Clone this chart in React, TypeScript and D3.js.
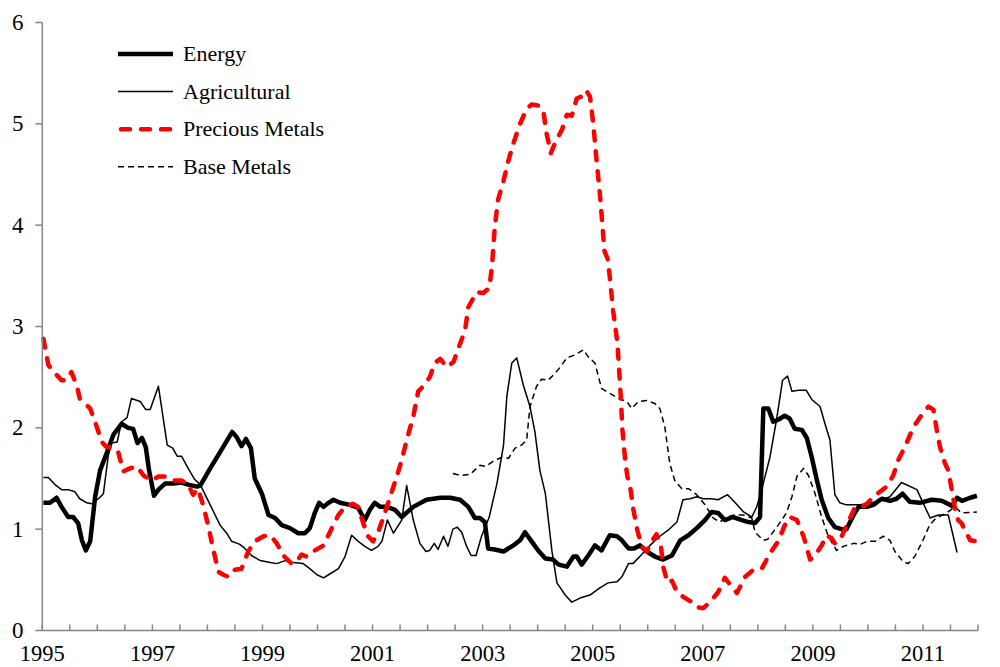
import React from "react";
import * as d3 from "d3";

// [decimal year, value]
const energy: [number, number][] = [
  [1995.02, 1.26], [1995.14, 1.26], [1995.26, 1.31], [1995.35, 1.22], [1995.47, 1.12], [1995.56, 1.12],
  [1995.65, 1.06], [1995.72, 0.89], [1995.79, 0.79], [1995.87, 0.88], [1995.96, 1.32], [1996.05, 1.58],
  [1996.17, 1.75], [1996.29, 1.93], [1996.44, 2.04], [1996.56, 2.0], [1996.65, 1.99], [1996.73, 1.85],
  [1996.81, 1.9], [1996.88, 1.81], [1996.94, 1.58], [1997.03, 1.33], [1997.11, 1.39], [1997.23, 1.45],
  [1997.38, 1.45], [1997.53, 1.46], [1997.65, 1.44], [1997.81, 1.42], [1997.87, 1.43], [1998.05, 1.6],
  [1998.23, 1.76], [1998.45, 1.96], [1998.53, 1.91], [1998.62, 1.82], [1998.7, 1.89], [1998.79, 1.8],
  [1998.86, 1.5], [1998.99, 1.35], [1999.11, 1.14], [1999.23, 1.11], [1999.35, 1.04], [1999.5, 1.01],
  [1999.65, 0.96], [1999.77, 0.96], [1999.86, 1.01], [1999.95, 1.16], [2000.03, 1.26], [2000.11, 1.22],
  [2000.2, 1.26], [2000.29, 1.29], [2000.41, 1.26], [2000.59, 1.24], [2000.74, 1.21], [2000.86, 1.09],
  [2000.95, 1.19], [2001.04, 1.26], [2001.14, 1.22], [2001.26, 1.22], [2001.41, 1.19], [2001.53, 1.12],
  [2001.74, 1.22], [2001.98, 1.29], [2002.23, 1.31], [2002.41, 1.31], [2002.59, 1.29], [2002.74, 1.22],
  [2002.86, 1.11], [2002.95, 1.11], [2003.04, 1.07], [2003.1, 0.81], [2003.22, 0.8], [2003.38, 0.78],
  [2003.56, 0.84], [2003.68, 0.89], [2003.77, 0.97], [2003.89, 0.88], [2004.01, 0.79], [2004.14, 0.71],
  [2004.28, 0.7], [2004.38, 0.65], [2004.53, 0.63], [2004.65, 0.73], [2004.71, 0.73], [2004.8, 0.65],
  [2004.92, 0.74], [2005.04, 0.84], [2005.16, 0.79], [2005.31, 0.94], [2005.44, 0.93], [2005.53, 0.89],
  [2005.65, 0.81], [2005.75, 0.81], [2005.86, 0.84], [2005.98, 0.78], [2006.13, 0.73], [2006.28, 0.7],
  [2006.44, 0.74], [2006.59, 0.89], [2006.74, 0.94], [2006.89, 1.01], [2007.04, 1.09], [2007.16, 1.17],
  [2007.28, 1.16], [2007.4, 1.09], [2007.55, 1.12], [2007.71, 1.09], [2007.83, 1.07], [2007.95, 1.06],
  [2008.04, 1.12], [2008.1, 2.19], [2008.19, 2.19], [2008.28, 2.06], [2008.37, 2.08], [2008.49, 2.12],
  [2008.58, 2.09], [2008.67, 1.99], [2008.8, 1.98], [2008.89, 1.9], [2008.98, 1.71], [2009.07, 1.49],
  [2009.16, 1.29], [2009.28, 1.11], [2009.4, 1.02], [2009.52, 1.0], [2009.61, 1.0], [2009.74, 1.14],
  [2009.83, 1.22], [2009.98, 1.22], [2010.1, 1.24], [2010.25, 1.3], [2010.4, 1.28], [2010.52, 1.3],
  [2010.63, 1.35], [2010.76, 1.27], [2010.94, 1.26], [2011.16, 1.29], [2011.34, 1.28], [2011.53, 1.23],
  [2011.62, 1.31], [2011.71, 1.28], [2011.86, 1.31], [2011.98, 1.33],
];

const agricultural: [number, number][] = [
  [1995.02, 1.51], [1995.11, 1.51], [1995.23, 1.44], [1995.35, 1.39], [1995.47, 1.39], [1995.59, 1.37],
  [1995.68, 1.3], [1995.81, 1.26], [1995.9, 1.25], [1996.02, 1.3], [1996.11, 1.35], [1996.2, 1.73],
  [1996.26, 1.85], [1996.36, 1.86], [1996.44, 2.06], [1996.54, 2.1], [1996.62, 2.29], [1996.78, 2.26],
  [1996.88, 2.18], [1996.96, 2.18], [1997.11, 2.41], [1997.27, 1.83], [1997.37, 1.8], [1997.45, 1.72],
  [1997.53, 1.72], [1997.65, 1.6], [1997.77, 1.49], [1997.87, 1.44], [1998.05, 1.24], [1998.23, 1.04],
  [1998.35, 0.96], [1998.44, 0.88], [1998.59, 0.85], [1998.68, 0.81], [1998.8, 0.74], [1998.96, 0.69],
  [1999.14, 0.67], [1999.26, 0.66], [1999.41, 0.69], [1999.56, 0.67], [1999.74, 0.66], [1999.86, 0.61],
  [1999.99, 0.55], [2000.11, 0.52], [2000.23, 0.56], [2000.38, 0.61], [2000.5, 0.73], [2000.62, 0.94],
  [2000.74, 0.88], [2000.86, 0.83], [2000.98, 0.79], [2001.1, 0.83], [2001.17, 0.88], [2001.27, 1.09],
  [2001.38, 0.96], [2001.53, 1.09], [2001.62, 1.43], [2001.74, 1.09], [2001.86, 0.86], [2001.97, 0.78],
  [2002.04, 0.79], [2002.12, 0.86], [2002.19, 0.8], [2002.29, 0.93], [2002.37, 0.83], [2002.46, 1.0],
  [2002.54, 1.02], [2002.62, 0.97], [2002.71, 0.83], [2002.79, 0.74], [2002.88, 0.74], [2002.98, 0.93],
  [2003.12, 1.12], [2003.26, 1.45], [2003.38, 1.83], [2003.44, 2.31], [2003.53, 2.64], [2003.62, 2.69],
  [2003.74, 2.42], [2003.86, 2.21], [2003.95, 1.96], [2004.04, 1.58], [2004.14, 1.35], [2004.26, 0.78],
  [2004.35, 0.47], [2004.5, 0.35], [2004.62, 0.28], [2004.77, 0.32], [2004.95, 0.35], [2005.13, 0.42],
  [2005.28, 0.47], [2005.44, 0.48], [2005.53, 0.53], [2005.65, 0.66], [2005.73, 0.66], [2005.89, 0.75],
  [2006.04, 0.84], [2006.22, 0.93], [2006.37, 0.99], [2006.53, 1.07], [2006.64, 1.29], [2006.77, 1.3],
  [2006.89, 1.32], [2007.01, 1.3], [2007.15, 1.3], [2007.28, 1.29], [2007.45, 1.34], [2007.59, 1.26],
  [2007.74, 1.17], [2007.89, 1.12], [2007.98, 1.22], [2008.07, 1.39], [2008.22, 1.71], [2008.34, 2.08],
  [2008.45, 2.47], [2008.54, 2.51], [2008.62, 2.36], [2008.74, 2.37], [2008.88, 2.37], [2008.98, 2.28],
  [2009.13, 2.21], [2009.22, 2.04], [2009.31, 1.88], [2009.4, 1.34], [2009.49, 1.26], [2009.61, 1.24],
  [2009.86, 1.24], [2010.16, 1.27], [2010.4, 1.32], [2010.61, 1.46], [2010.89, 1.39], [2011.13, 1.11],
  [2011.28, 1.14], [2011.46, 1.14], [2011.62, 0.77],
];

const precious: [number, number][] = [
  [1995.02, 2.88], [1995.11, 2.62], [1995.23, 2.54], [1995.35, 2.47], [1995.43, 2.47], [1995.53, 2.55],
  [1995.63, 2.41], [1995.68, 2.29], [1995.87, 2.19], [1995.99, 2.01], [1996.08, 1.86], [1996.17, 1.81],
  [1996.29, 1.81], [1996.38, 1.76], [1996.47, 1.57], [1996.59, 1.6], [1996.72, 1.62], [1996.84, 1.53],
  [1996.99, 1.48], [1997.11, 1.52], [1997.23, 1.52], [1997.38, 1.48], [1997.53, 1.48], [1997.65, 1.44],
  [1997.74, 1.34], [1997.83, 1.4], [1997.93, 1.22], [1998.02, 1.02], [1998.11, 0.79], [1998.2, 0.58],
  [1998.29, 0.55], [1998.38, 0.53], [1998.5, 0.6], [1998.62, 0.61], [1998.74, 0.78], [1998.86, 0.88],
  [1999.02, 0.93], [1999.14, 0.94], [1999.26, 0.86], [1999.38, 0.74], [1999.53, 0.66], [1999.62, 0.68],
  [1999.71, 0.75], [1999.8, 0.73], [1999.95, 0.79], [2000.11, 0.84], [2000.26, 1.01], [2000.38, 1.14],
  [2000.5, 1.22], [2000.64, 1.25], [2000.74, 1.22], [2000.83, 1.06], [2000.92, 0.93], [2001.01, 0.88],
  [2001.1, 0.97], [2001.2, 1.12], [2001.32, 1.32], [2001.44, 1.52], [2001.53, 1.68], [2001.62, 1.88],
  [2001.74, 2.11], [2001.83, 2.36], [2001.92, 2.41], [2002.04, 2.5], [2002.13, 2.64], [2002.23, 2.68],
  [2002.35, 2.6], [2002.47, 2.65], [2002.59, 2.83], [2002.68, 2.96], [2002.74, 3.19], [2002.89, 3.34],
  [2003.01, 3.33], [2003.12, 3.38], [2003.17, 3.59], [2003.22, 3.98], [2003.28, 4.25], [2003.38, 4.44],
  [2003.47, 4.64], [2003.56, 4.81], [2003.68, 5.0], [2003.8, 5.15], [2003.89, 5.19], [2004.01, 5.18],
  [2004.1, 5.14], [2004.16, 4.91], [2004.24, 4.71], [2004.32, 4.82], [2004.44, 4.94], [2004.53, 5.09],
  [2004.62, 5.08], [2004.71, 5.25], [2004.8, 5.27], [2004.88, 5.33], [2004.95, 5.27], [2005.01, 5.0],
  [2005.07, 4.64], [2005.13, 4.31], [2005.18, 3.98], [2005.21, 3.75], [2005.27, 3.67], [2005.31, 3.49],
  [2005.37, 3.16], [2005.45, 2.83], [2005.51, 2.31], [2005.54, 1.98], [2005.59, 1.68], [2005.63, 1.52],
  [2005.68, 1.42], [2005.74, 1.19], [2005.81, 0.99], [2005.89, 0.83], [2005.98, 0.78], [2006.07, 0.88],
  [2006.16, 0.95], [2006.24, 0.83], [2006.28, 0.63], [2006.36, 0.47], [2006.44, 0.49], [2006.53, 0.38],
  [2006.65, 0.33], [2006.8, 0.28], [2006.89, 0.23], [2007.01, 0.22], [2007.13, 0.28], [2007.28, 0.38],
  [2007.4, 0.52], [2007.53, 0.43], [2007.62, 0.37], [2007.77, 0.53], [2007.92, 0.6], [2008.07, 0.61],
  [2008.22, 0.76], [2008.37, 0.88], [2008.49, 1.04], [2008.58, 1.12], [2008.71, 1.09], [2008.83, 0.93],
  [2008.95, 0.7], [2009.04, 0.74], [2009.16, 0.84], [2009.25, 0.94], [2009.34, 0.91], [2009.4, 0.86],
  [2009.49, 0.89], [2009.64, 1.07], [2009.76, 1.21], [2009.88, 1.21], [2010.0, 1.26], [2010.1, 1.32],
  [2010.22, 1.37], [2010.34, 1.42], [2010.46, 1.53], [2010.55, 1.68], [2010.67, 1.81], [2010.83, 2.01],
  [2010.98, 2.13], [2011.1, 2.21], [2011.19, 2.18], [2011.25, 1.98], [2011.31, 1.81], [2011.4, 1.65],
  [2011.46, 1.58], [2011.52, 1.4], [2011.58, 1.21], [2011.64, 1.09], [2011.7, 1.06], [2011.78, 0.97],
  [2011.86, 0.89], [2011.98, 0.88],
];

const baseMetals: [number, number][] = [
  [2002.46, 1.55], [2002.59, 1.53], [2002.77, 1.54], [2002.95, 1.63], [2003.06, 1.62], [2003.19, 1.67],
  [2003.35, 1.71], [2003.47, 1.7], [2003.59, 1.8], [2003.71, 1.83], [2003.8, 1.88], [2003.86, 2.21],
  [2003.98, 2.41], [2004.07, 2.48], [2004.19, 2.47], [2004.32, 2.54], [2004.41, 2.6], [2004.53, 2.69],
  [2004.68, 2.72], [2004.83, 2.77], [2004.92, 2.7], [2005.04, 2.64], [2005.16, 2.39], [2005.31, 2.34],
  [2005.47, 2.29], [2005.62, 2.26], [2005.71, 2.19], [2005.83, 2.26], [2005.98, 2.27], [2006.13, 2.24],
  [2006.22, 2.19], [2006.31, 2.01], [2006.4, 1.65], [2006.49, 1.48], [2006.62, 1.4], [2006.74, 1.4],
  [2006.89, 1.34], [2007.04, 1.24], [2007.19, 1.11], [2007.31, 1.07], [2007.43, 1.12], [2007.59, 1.14],
  [2007.73, 1.14], [2007.89, 1.11], [2007.95, 0.97], [2008.1, 0.89], [2008.18, 0.9], [2008.37, 1.04],
  [2008.52, 1.16], [2008.62, 1.32], [2008.71, 1.52], [2008.83, 1.6], [2008.92, 1.53], [2009.04, 1.35],
  [2009.16, 1.12], [2009.28, 0.93], [2009.43, 0.79], [2009.55, 0.83], [2009.74, 0.86], [2009.86, 0.85],
  [2009.98, 0.88], [2010.13, 0.88], [2010.28, 0.93], [2010.4, 0.89], [2010.49, 0.78], [2010.64, 0.68],
  [2010.73, 0.66], [2010.85, 0.73], [2011.0, 0.89], [2011.12, 1.04], [2011.24, 1.11], [2011.43, 1.16],
  [2011.58, 1.22], [2011.7, 1.16], [2011.98, 1.17],
];

const yTicks = [0, 1, 2, 3, 4, 5, 6];
const xLabelYears = [1995, 1997, 1999, 2001, 2003, 2005, 2007, 2009, 2011];
const xDomain = [1995, 2012];
const yDomain = [0, 6];

const seriesNames = ["Energy", "Agricultural", "Precious Metals", "Base Metals"];

const W = 1000;
const H = 667;
const left = 42.3;
const right = 978;
const top = 22.5;
const bottom = 630.5;
const font = "'Liberation Serif', 'Times New Roman', serif";

const styles = [
  { stroke: "#000", width: 4.5, dash: "none", cap: "butt" as const },
  { stroke: "#000", width: 1.5, dash: "none", cap: "butt" as const },
  { stroke: "#ff0000", width: 4.5, dash: "9,11", cap: "round" as const },
  { stroke: "#000", width: 1.5, dash: "6,4", cap: "butt" as const },
];

export default function App() {
  const x = d3.scaleLinear().domain(xDomain).range([left, right]);
  const y = d3.scaleLinear().domain(yDomain).range([bottom, top]);
  const line = d3
    .line<[number, number]>()
    .x((d) => x(d[0]))
    .y((d) => y(d[1]));
  const data = [energy, agricultural, precious, baseMetals];
  const minorTicks = d3.range(xDomain[0], xDomain[1] + 0.001, 0.5);
  const axisColor = "#868686";

  return (
    <svg
      width={W}
      height={H}
      style={{ position: "absolute", left: 0, top: 0, background: "#fff" }}
      fontFamily={font}
    >
      {[1, 3, 0, 2].map((i) => (
        <path
          key={i}
          d={line(data[i]) || ""}
          fill="none"
          stroke={styles[i].stroke}
          strokeWidth={styles[i].width}
          strokeDasharray={styles[i].dash}
          strokeLinecap={styles[i].cap}
          strokeLinejoin="round"
        />
      ))}

      {/* y axis */}
      <line x1={left} x2={left} y1={top} y2={bottom} stroke={axisColor} strokeWidth={1.5} />
      {yTicks.map((t) => (
        <g key={t}>
          <line x1={left - 7} x2={left} y1={y(t)} y2={y(t)} stroke={axisColor} strokeWidth={1.5} />
          <text x={23.5} y={y(t)} dy="0.33em" textAnchor="end" fontSize={23} fill="#000">
            {t}
          </text>
        </g>
      ))}

      {/* x axis */}
      <line x1={left} x2={right} y1={bottom} y2={bottom} stroke={axisColor} strokeWidth={1.5} />
      {minorTicks.map((t) => (
        <line key={t} x1={x(t)} x2={x(t)} y1={bottom} y2={bottom - 6} stroke={axisColor} strokeWidth={1.5} />
      ))}
      {xLabelYears.map((yr) => (
        <text key={yr} x={x(yr)} y={661} textAnchor="middle" fontSize={22.5} fill="#000">
          {yr}
        </text>
      ))}

      {/* legend */}
      {seriesNames.map((name, i) => {
        const ly = 54 + i * 37.6;
        return (
          <g key={name}>
            <line
              x1={i === 2 ? 121 : 118}
              x2={i === 2 ? 170 : 173}
              y1={ly}
              y2={ly}
              stroke={styles[i].stroke}
              strokeWidth={styles[i].width}
              strokeDasharray={styles[i].dash}
              strokeLinecap={styles[i].cap}
            />
            <text x={183} y={ly} dy="0.33em" fontSize={22} fill="#000">
              {name}
            </text>
          </g>
        );
      })}
    </svg>
  );
}
